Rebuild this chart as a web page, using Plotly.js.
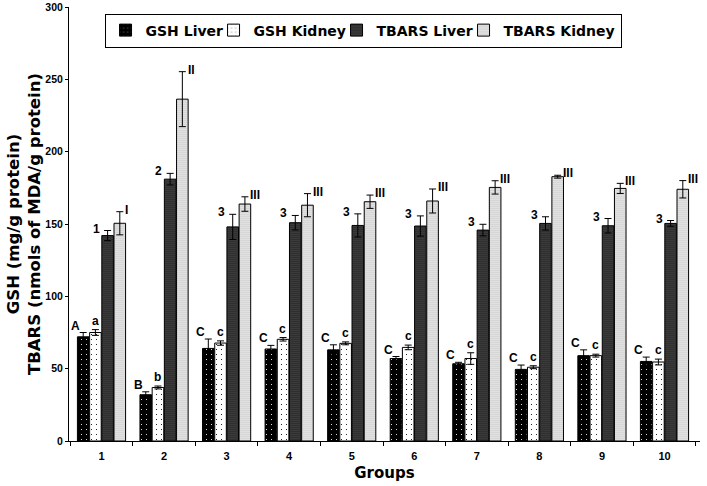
<!DOCTYPE html>
<html>
<head>
<meta charset="utf-8">
<script src="https://cdn.plot.ly/plotly-3.0.1.min.js"></script>
<style>html,body{margin:0;padding:0;background:#fff;}#chart{width:707px;height:486px;}</style>
</head>
<body>
<div id="chart"></div>
<script>
const groups = ['1','2','3','4','5','6','7','8','9','10'];
const seriesNames = ['GSH Liver','GSH Kidney','TBARS Liver','TBARS Kidney'];

const gshLiver      = [72, 32, 64, 63.6, 63, 57, 53.4, 49.5, 59, 55];
const gshLiverErr   = [3, 2, 6.5, 2.5, 3.5, 1.4, 1, 3, 4, 3];
const gshKidney     = [75, 37, 67.7, 70.3, 67.5, 64.7, 57, 51, 59, 54.6];
const gshKidneyErr  = [2, 1, 1.5, 1.2, 1, 1.6, 4, 1, 1, 2];
const tbarsLiver    = [142, 181, 148, 150.9, 149, 148.6, 145.8, 150.4, 148.8, 150.4];
const tbarsLiverErr = [3.5, 4, 8.7, 5, 8, 7, 4, 4.6, 5, 2];
const tbarsKidney   = [150.5, 236.3, 163.8, 163, 165.4, 165.9, 175.3, 182.7, 174.6, 174];
const tbarsKidneyErr= [8, 19, 5, 8, 4.6, 8.3, 4.6, 1, 3.5, 6];

const gshLiverLabels    = ['A','B','C','C','C','C','C','C','C','C'];
const gshKidneyLabels   = ['a','b','c','c','c','c','c','c','c','c'];
const tbarsLiverLabels  = ['1','2','3','3','3','3','3','3','3','3'];
const tbarsKidneyLabels = ['I','II','III','III','III','III','III','III','III','III'];

const values = [gshLiver, gshKidney, tbarsLiver, tbarsKidney];
const errs = [gshLiverErr, gshKidneyErr, tbarsLiverErr, tbarsKidneyErr];
const labels = [gshLiverLabels, gshKidneyLabels, tbarsLiverLabels, tbarsKidneyLabels];

const patterns = [
  {shape: '.', bgcolor: '#000000', fgcolor: '#ffffff', size: 5, solidity: 0.04},
  {shape: '.', bgcolor: '#ffffff', fgcolor: '#000000', size: 5, solidity: 0.04},
  {shape: '.', bgcolor: '#1a1a1a', fgcolor: '#8c8c8c', size: 2, solidity: 0.3},
  {shape: '.', bgcolor: '#f4f4f4', fgcolor: '#8a8a8a', size: 2, solidity: 0.3}
];
const legendWidths = [63, 78, 82, null];

const traces = seriesNames.map((name, i) => {
  const t = {
    type: 'bar',
    name: name,
    x: groups,
    y: values[i],
    marker: {color: patterns[i].bgcolor, line: {color: '#000', width: 1}, pattern: patterns[i]},
    error_y: {type: 'data', array: errs[i], visible: true, color: '#000', thickness: 1, width: 3.5},
    hoverinfo: 'x+y'
  };
  if (legendWidths[i]) t.legendwidth = legendWidths[i];
  return t;
});

// annotation placement per series (pixel offsets relative to category centre)
const barOffsets = [-18.5, -6.2, 6.2, 18.5];
const labelCfg = [
  {dx: -1, xanchor: 'right', yanchor: 'bottom', dy: -2},
  {dx: 0, xanchor: 'center', yanchor: 'bottom', dy: 0},
  {dx: -6, xanchor: 'right', yanchor: 'middle', dy: 2},
  {dx: 3, xanchor: 'left', yanchor: 'middle', dy: 2}
];
const annotations = [];
for (let s = 0; s < 4; s++) {
  for (let g = 0; g < groups.length; g++) {
    annotations.push({
      x: g, y: values[s][g] + errs[s][g], xref: 'x', yref: 'y',
      text: labels[s][g], showarrow: false,
      xshift: barOffsets[s] + labelCfg[s].dx, yshift: labelCfg[s].dy,
      xanchor: labelCfg[s].xanchor, yanchor: labelCfg[s].yanchor,
      font: {family: 'Liberation Sans, Arial, sans-serif', size: 12, color: '#000', weight: 'bold'}
    });
  }
}

const titleFont = 'DejaVu Sans, Liberation Sans, sans-serif';
const tickFont = 'Liberation Sans, Arial, sans-serif';
const layout = {
  width: 707, height: 486,
  margin: {l: 69, r: 7, t: 7, b: 45},
  paper_bgcolor: '#fff', plot_bgcolor: '#fff',
  barmode: 'group', bargap: 0.22, bargroupgap: 0.05,
  showlegend: true,
  legend: {
    orientation: 'h', x: 0.466, xanchor: 'center', y: 0.985, yanchor: 'top',
    bgcolor: '#fff', bordercolor: '#000', borderwidth: 1,
    font: {family: titleFont, size: 14, color: '#000', weight: 'bold'},
    itemwidth: 30, tracegroupgap: 0
  },
  xaxis: {
    type: 'category', showline: true, linecolor: '#000', linewidth: 1,
    ticks: 'outside', tickson: 'boundaries', ticklen: 4, tickcolor: '#000',
    showgrid: false, zeroline: false, ticklabelstandoff: 5,
    tickfont: {family: tickFont, size: 11, color: '#000', weight: 'bold'},
    title: {text: 'Groups', standoff: 6, font: {family: titleFont, size: 15, color: '#000', weight: 'bold'}}
  },
  yaxis: {
    range: [0, 300], dtick: 50, showline: true, linecolor: '#000', linewidth: 1,
    ticks: 'outside', ticklen: 3, tickcolor: '#000', showgrid: false, zeroline: false,
    tickfont: {family: tickFont, size: 10.5, color: '#000', weight: 'bold'},
    title: {text: 'GSH (mg/g protein)<br>TBARS (nmols of MDA/g protein)', standoff: 0,
      font: {family: titleFont, size: 16.5, color: '#000', weight: 'bold'}}
  },
  annotations: annotations
};

Plotly.newPlot('chart', traces, layout, {displayModeBar: false, staticPlot: true});
</script>
</body>
</html>
